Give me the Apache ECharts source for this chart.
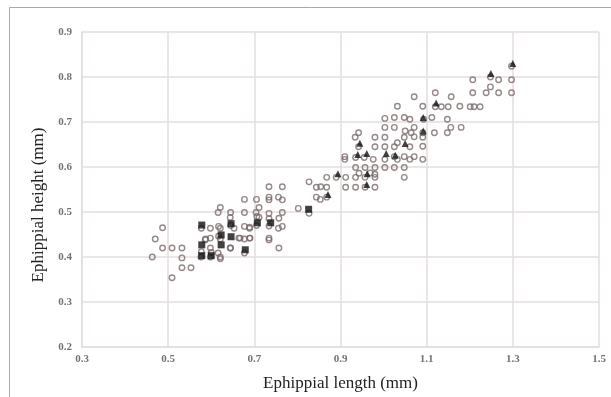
<!DOCTYPE html>
<html style="height: 100%">
<head>
  <meta charset="utf-8">
  <script src="https://cdn.jsdelivr.net/npm/echarts@6/dist/echarts.min.js"></script>
</head>
<body style="height: 100%; margin: 0; background: #fff">
<div id="container" style="width: 611px; height: 397px"></div>
<script type="text/javascript">
// axis ticks
var xTicks = [0.3, 0.5, 0.7, 0.9, 1.1, 1.3, 1.5];
var yTicks = [0.2, 0.3, 0.4, 0.5, 0.6, 0.7, 0.8, 0.9];

// grey open circles  [length, height]
var circles = [
  [0.463, 0.400], [0.470, 0.440], [0.487, 0.465], [0.487, 0.420], [0.509, 0.420],
  [0.532, 0.420], [0.532, 0.398], [0.532, 0.376], [0.553, 0.376], [0.509, 0.354],
  [0.577, 0.464], [0.598, 0.464], [0.621, 0.464], [0.653, 0.464], [0.587, 0.440],
  [0.598, 0.442], [0.621, 0.440], [0.664, 0.442], [0.677, 0.440], [0.689, 0.442],
  [0.734, 0.442], [0.734, 0.438], [0.598, 0.420], [0.645, 0.420], [0.757, 0.420],
  [0.616, 0.409], [0.677, 0.409], [0.576, 0.400], [0.598, 0.400], [0.621, 0.400],
  [0.621, 0.396], [0.586, 0.438], [0.617, 0.468], [0.617, 0.446], [0.644, 0.420],
  [0.667, 0.442], [0.690, 0.442], [0.689, 0.466], [0.577, 0.412], [0.600, 0.410],
  [0.734, 0.556], [0.765, 0.556], [0.677, 0.528], [0.705, 0.528], [0.734, 0.533],
  [0.734, 0.527], [0.756, 0.533], [0.765, 0.527], [0.621, 0.510], [0.616, 0.499],
  [0.645, 0.499], [0.677, 0.499], [0.704, 0.499], [0.711, 0.510], [0.734, 0.497],
  [0.765, 0.499], [0.644, 0.488], [0.711, 0.488], [0.734, 0.485], [0.757, 0.486],
  [0.756, 0.464], [0.765, 0.468], [0.677, 0.468], [0.689, 0.464], [0.734, 0.469],
  [0.706, 0.490], [0.705, 0.470], [0.645, 0.470],
  [0.802, 0.508], [0.827, 0.497], [0.827, 0.567], [0.844, 0.555], [0.854, 0.556],
  [0.868, 0.555], [0.844, 0.533], [0.853, 0.528], [0.868, 0.533], [0.868, 0.577],
  [0.890, 0.577], [0.912, 0.577], [0.912, 0.555], [0.935, 0.555], [0.957, 0.555],
  [0.980, 0.555], [0.935, 0.577], [0.957, 0.577], [0.980, 0.584], [0.980, 0.577],
  [0.943, 0.586], [0.969, 0.587], [1.048, 0.577], [0.935, 0.599], [0.957, 0.599],
  [0.980, 0.599], [1.003, 0.599], [1.025, 0.599], [1.048, 0.599], [0.910, 0.623],
  [0.910, 0.617], [0.935, 0.621], [0.955, 0.621], [0.976, 0.617], [1.003, 0.617],
  [1.025, 0.623], [1.032, 0.617], [1.048, 0.623], [1.061, 0.617], [1.071, 0.623],
  [1.091, 0.617], [0.942, 0.645], [0.980, 0.645], [1.003, 0.645], [1.025, 0.645],
  [1.061, 0.645], [1.091, 0.646], [1.032, 0.654], [0.934, 0.666], [0.980, 0.666],
  [1.003, 0.666], [1.048, 0.666], [1.071, 0.667], [1.091, 0.666], [0.942, 0.676],
  [1.064, 0.676], [1.091, 0.676], [1.118, 0.676], [1.148, 0.676], [1.050, 0.680],
  [1.003, 0.688], [1.025, 0.688], [1.071, 0.688], [1.156, 0.688], [1.180, 0.688],
  [1.003, 0.708], [1.025, 0.710], [1.048, 0.710], [1.061, 0.706], [1.093, 0.706],
  [1.112, 0.710], [1.148, 0.706], [1.032, 0.735], [1.091, 0.735], [1.120, 0.734],
  [1.134, 0.734], [1.150, 0.734], [1.177, 0.735], [1.201, 0.734], [1.210, 0.734],
  [1.224, 0.734], [1.071, 0.756], [1.157, 0.756], [1.120, 0.765], [1.207, 0.765],
  [1.238, 0.765], [1.267, 0.765], [1.297, 0.765], [1.248, 0.778], [1.207, 0.794],
  [1.267, 0.794], [1.297, 0.794], [1.248, 0.800], [1.297, 0.824]
];

// black squares
var squares = [
  [0.578, 0.471], [0.578, 0.427], [0.578, 0.403], [0.600, 0.403], [0.623, 0.449],
  [0.623, 0.427], [0.646, 0.474], [0.646, 0.445], [0.679, 0.416], [0.707, 0.476],
  [0.738, 0.476], [0.826, 0.506]
];

// black triangles
var triangles = [
  [1.300, 0.830], [1.249, 0.808], [1.122, 0.742], [1.092, 0.710], [1.092, 0.680],
  [1.050, 0.652], [0.945, 0.653], [0.940, 0.628], [0.961, 0.630], [1.006, 0.630],
  [1.027, 0.626], [0.894, 0.585], [0.962, 0.585], [0.961, 0.561], [0.871, 0.539]
];

var dom = document.getElementById('container');
var myChart = echarts.init(dom, null, { renderer: 'canvas' });

var gridColor = '#e6dcdc';
var labelStyle = {
  color: '#777070',
  fontFamily: 'Liberation Serif',
  fontSize: 11,
  fontWeight: 'bold'
};

var option = {
  animation: false,
  backgroundColor: '#fff',
  grid: { left: 82, top: 32, right: 12, bottom: 50 },
  graphic: [
    {
      type: 'rect',
      shape: { x: 9.5, y: 7.5, width: 700, height: 500 },
      style: { fill: 'none', stroke: '#a8a8a8', lineWidth: 1 }
    },
    {
      type: 'text',
      x: 39, y: 205,
      rotation: Math.PI / 2,
      style: {
        text: 'Ephippial height (mm)',
        fill: '#222',
        font: '17px "Liberation Serif"',
        textAlign: 'center',
        textVerticalAlign: 'middle'
      }
    }
  ],
  xAxis: {
    type: 'value',
    min: xTicks[0],
    max: xTicks[xTicks.length - 1],
    interval: 0.2,
    name: 'Ephippial length (mm)',
    nameLocation: 'middle',
    nameGap: 28,
    nameTextStyle: { color: '#222', fontFamily: 'Liberation Serif', fontSize: 17 },
    axisLine: { show: true, lineStyle: { color: gridColor, width: 1.5 } },
    axisTick: { show: false },
    axisLabel: Object.assign({ margin: 7 }, labelStyle),
    splitLine: { show: true, lineStyle: { color: gridColor, width: 1.5 } }
  },
  yAxis: {
    type: 'value',
    min: yTicks[0],
    max: yTicks[yTicks.length - 1],
    interval: 0.1,
    axisLine: { show: true, lineStyle: { color: gridColor, width: 1.5 } },
    axisTick: { show: false },
    axisLabel: Object.assign({ margin: 10, formatter: function (v) { return v.toFixed(1); } }, labelStyle),
    splitLine: { show: true, lineStyle: { color: gridColor, width: 1.5 } }
  },
  series: [
    {
      name: 'circles',
      type: 'scatter',
      data: circles,
      symbol: 'circle',
      symbolSize: 5.5,
      itemStyle: { color: 'rgba(255,255,255,0)', borderColor: '#7a6c6c', borderWidth: 1.4 }
    },
    {
      name: 'squares',
      type: 'scatter',
      data: squares,
      symbol: 'rect',
      symbolSize: 7,
      itemStyle: { color: '#111' }
    },
    {
      name: 'triangles',
      type: 'scatter',
      data: triangles,
      symbol: 'triangle',
      symbolSize: 7,
      itemStyle: { color: '#111' }
    }
  ]
};

myChart.setOption(option);
</script>
</body>
</html>
